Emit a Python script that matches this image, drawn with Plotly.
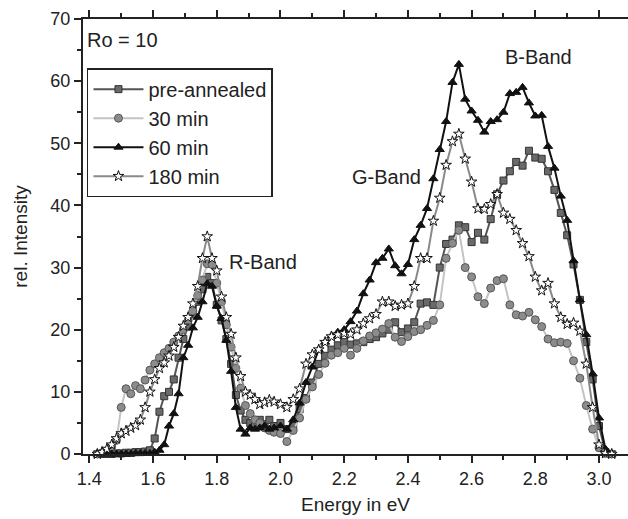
import plotly.graph_objects as go

# Shared energy grid (eV)
energy = [1.425, 1.44, 1.455, 1.47, 1.485, 1.50, 1.515, 1.53, 1.545, 1.56, 1.575, 1.59,
          1.605, 1.62, 1.635, 1.65, 1.665, 1.68, 1.695, 1.71, 1.725, 1.74, 1.755, 1.77,
          1.785, 1.80, 1.815, 1.83, 1.845, 1.86, 1.875, 1.89, 1.905, 1.92, 1.935, 1.95,
          1.965, 1.98,
          2.00, 2.02, 2.04, 2.06, 2.08, 2.10, 2.12, 2.14, 2.16, 2.18, 2.20, 2.22, 2.24,
          2.26, 2.28, 2.30, 2.32, 2.34, 2.36, 2.38, 2.40, 2.42, 2.44, 2.46, 2.48, 2.50,
          2.52, 2.54, 2.56, 2.58, 2.60, 2.62, 2.64, 2.66, 2.68, 2.70, 2.72, 2.74, 2.76,
          2.78, 2.80, 2.82, 2.84, 2.86, 2.88, 2.90, 2.92, 2.94, 2.96, 2.98, 3.00, 3.02, 3.04]

pre_annealed = [0, 0, 0, 0, 0.1, 0.1, 0.2, 0.2, 0.3, 0.3, 0.4, 0.6,
                2.5, 6.8, 9.3, 10.0, 12.0, 15.5, 18.5, 20.5, 22.5, 24.5, 26.5, 28.5,
                27.5, 24.0, 21.5, 18.5, 14.5, 9.5, 7.0, 5.5, 5.0, 4.5, 5.5, 4.8,
                5.5, 4.5,
                5.0, 4.0, 4.5, 7.2, 9.0, 11.5, 14.5, 15.8, 16.8, 17.5, 18.0, 17.6, 17.8,
                18.0, 18.5, 18.8, 19.4, 20.0, 21.2, 19.6, 20.2, 21.2, 24.2, 24.4, 24.0, 30.0,
                33.8, 34.5, 36.8, 36.5, 34.1, 35.6, 34.5, 37.8, 41.8, 44.0, 45.5, 47.0, 46.4,
                48.8, 47.7, 47.5, 45.5, 42.5, 38.8, 35.2, 30.5, 24.8, 18.0, 12.0, 4.5, 0.3, 0]

min30 = [0, 0.2, 0.5, 1.2, 2.2, 7.5, 10.5, 9.7, 11.0, 10.5, 11.9, 13.5,
         14.5, 15.5, 16.3, 17.0, 18.0, 19.0, 20.0, 21.5, 23.0, 25.5, 28.0, 30.6,
         30.5, 27.5, 24.5, 20.8, 17.2, 13.8, 10.6, 7.8, 6.5, 5.5, 5.0, 4.2,
         3.8, 3.5,
         3.3, 2.0, 3.8, 5.8, 8.8, 10.8, 12.8, 14.6, 15.9, 16.3, 17.0, 15.9, 17.0,
         18.2, 19.0, 19.5, 20.1, 21.0, 18.8, 18.1, 18.9, 19.7, 20.0, 20.7, 21.5, 24.0,
         31.5, 33.9, 36.0, 30.0, 28.5, 25.3, 24.2, 26.7, 27.9, 28.2, 24.0, 22.4, 22.2,
         22.8, 21.6, 20.5, 18.5, 17.9, 18.0, 17.8, 15.0, 12.2, 7.8, 4.0, 1.0, 0.1, 0]

min60 = [0, 0, 0, 0, 0, 0, 0, 0, 0.1, 0.1, 0.1, 0.1,
         0.3, 0.6, 1.5, 4.5, 6.5, 9.7, 15.5, 17.5, 20.3, 22.0, 24.5, 27.4,
         27.0, 23.8, 21.8, 18.3, 13.3, 7.5, 4.0, 3.2, 4.2, 4.0, 4.2, 4.5,
         4.0, 4.2,
         4.5, 4.0, 5.5, 8.2, 11.5, 14.0, 16.8, 18.0, 19.0, 19.6, 20.0, 21.3, 23.0,
         25.8, 28.0, 30.8, 31.5, 33.0, 30.3, 29.0, 30.5, 34.5, 36.8, 39.5, 44.3, 49.0,
         53.5, 59.8, 62.7, 57.1, 55.2, 53.7, 51.8, 53.5, 53.8, 55.0, 58.0, 58.2, 59.0,
         56.5, 54.4, 54.5, 49.5, 46.0, 41.5, 37.6, 31.1, 24.8, 19.2, 12.9, 5.8, 0.8, 0]

min180 = [0, 0.3, 0.8, 1.5, 2.5, 3.3, 3.7, 4.2, 4.6, 5.5, 7.5, 10.0,
          12.0, 13.8, 14.7, 15.8, 17.2, 18.8, 20.6, 22.0, 24.2, 27.0, 31.5, 35.0,
          31.5, 29.5, 25.3, 22.0, 19.3, 15.5, 12.5, 10.0, 9.5, 8.8, 8.0, 8.3,
          8.7, 8.4,
          8.0, 7.5, 8.8, 10.5, 14.5, 16.0, 16.8, 18.0, 18.9, 19.2, 19.4, 19.3, 20.0,
          21.0, 21.8, 22.5, 24.5, 24.5, 23.8, 24.0, 24.2, 27.0, 31.5, 31.5, 37.5, 41.2,
          46.5, 50.3, 51.5, 47.5, 43.8, 39.5, 39.4, 40.2, 41.8, 38.8, 37.8, 36.0, 33.9,
          31.8, 28.5, 26.3, 27.5, 24.2, 22.0, 20.9, 21.1, 19.8, 14.5, 7.5, 1.5, 0.1, 0]

series_names = ["pre-annealed", "30 min", "60 min", "180 min"]
x_ticks = [1.4, 1.6, 1.8, 2.0, 2.2, 2.4, 2.6, 2.8, 3.0]

FONT = "Liberation Sans, Arial, sans-serif"

fig = go.Figure()

styles = [
    (pre_annealed, dict(color="#555555", width=2), dict(symbol="square", size=7, color="#6a6a6a", line=dict(color="#333333", width=1))),
    (min30, dict(color="#c4c4c4", width=2), dict(symbol="circle", size=8, color="#8c8c8c", line=dict(color="#555555", width=1))),
    (min60, dict(color="#111111", width=2), dict(symbol="triangle-up", size=8, color="#111111", line=dict(color="#111111", width=1))),
    (min180, dict(color="#8a8a8a", width=2), dict(symbol="star", size=8, color="#ffffff", line=dict(color="#111111", width=1))),
]

for name, (vals, ln, mk) in zip(series_names, styles):
    fig.add_trace(go.Scatter(x=energy, y=vals, mode="lines+markers", name=name,
                             line=ln, marker=mk, cliponaxis=False))

for txt, ax, ay in [("Ro = 10", 1.386, 66.7), ("R-Band", 1.832, 30.9),
                    ("G-Band", 2.218, 44.6), ("B-Band", 2.699, 63.9)]:
    fig.add_annotation(x=ax, y=ay, text=txt, showarrow=False, xanchor="left", yanchor="middle",
                       font=dict(family=FONT, size=20, color="#222"))

fig.update_layout(
    width=628, height=519,
    margin=dict(l=83, r=0, t=19, b=65),
    paper_bgcolor="white", plot_bgcolor="white",
    font=dict(family=FONT, size=18, color="#222"),
    showlegend=True,
    legend=dict(x=0.0073, y=0.887, xanchor="left", yanchor="top",
                bordercolor="#222", borderwidth=1.5, bgcolor="white",
                font=dict(family=FONT, size=20, color="#222"),
                itemwidth=50, tracegroupgap=4, entrywidth=205),
    xaxis=dict(range=[1.38, 3.091], tickvals=x_ticks, ticktext=[f"{v:.1f}" for v in x_ticks],
               ticks="outside", ticklen=7, tickwidth=2, tickcolor="#222",
               minor=dict(dtick=0.1, tick0=1.4, ticks="outside", ticklen=4, tickwidth=2, tickcolor="#222"),
               showline=True, linewidth=2, linecolor="#222", mirror="ticks",
               showgrid=False, zeroline=False,
               title=dict(text="Energy in eV", font=dict(size=19), standoff=10)),
    yaxis=dict(range=[0, 70], dtick=10, tick0=0,
               ticks="outside", ticklen=7, tickwidth=2, tickcolor="#222",
               minor=dict(dtick=5, ticks="outside", ticklen=4, tickwidth=2, tickcolor="#222"),
               showline=True, linewidth=2, linecolor="#222",
               showgrid=False, zeroline=False,
               title=dict(text="rel. Intensity", font=dict(size=19), standoff=18)),
)

fig.write_html("out.html")
